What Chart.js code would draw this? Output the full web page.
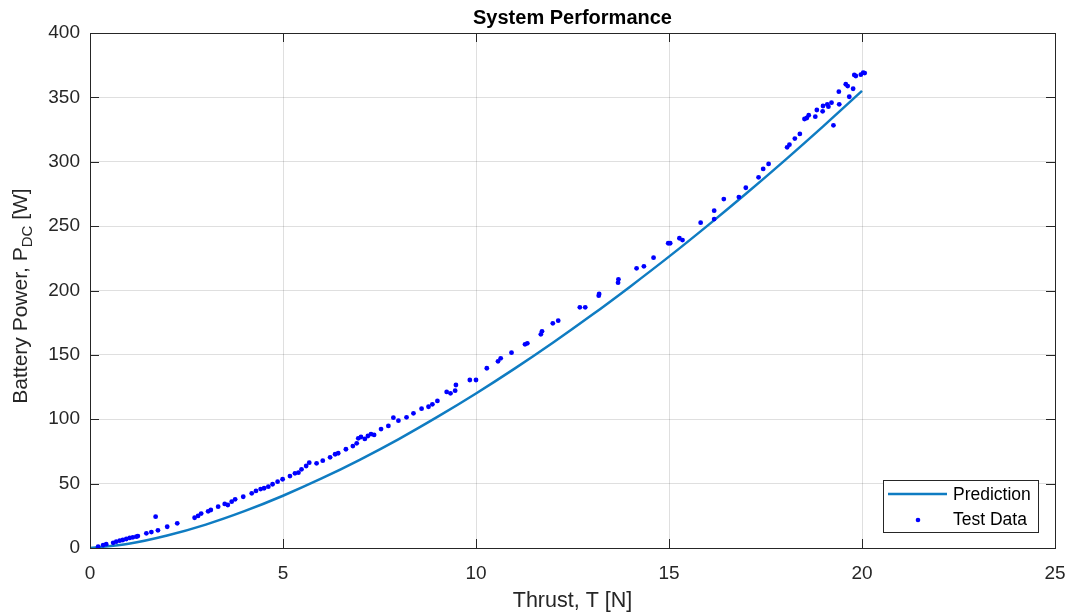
<!DOCTYPE html>
<html>
<head>
<meta charset="utf-8">
<script src="https://cdn.jsdelivr.net/npm/chart.js@4"></script>
<style>
  html, body { margin: 0; padding: 0; background: #fff; }
  #perf { display: block; }
</style>
</head>
<body>
<canvas id="perf" width="1068" height="613"></canvas>
<script>
// 모델 예측 곡선
const predT = [0, 1, 2, 3, 4, 5, 6, 7, 8, 9, 10, 11, 12, 13, 14, 15, 16, 17, 18, 19, 20];
const predP = [0, 3.3, 9.7, 18.2, 28.6, 40.6, 54.0, 68.7, 84.6, 101.8, 120, 139.3, 159.6, 180.9, 203.2, 226.3, 250.4, 275.3, 301.1, 327.7, 355.0];

// 시험 데이터 (추력 T [N], 전력 P [W])
const testT = [0.21, 0.34, 0.42, 0.6, 0.68, 0.77, 0.85, 0.94, 1.03, 1.11,
  1.2, 1.24, 1.46, 1.59, 1.7, 1.76, 2.0, 2.26, 2.71, 2.8,
  2.88, 3.06, 3.13, 3.32, 3.49, 3.57, 3.67, 3.76, 3.97, 4.19,
  4.3, 4.42, 4.51, 4.62, 4.73, 4.86, 4.99, 5.18, 5.31, 5.4,
  5.48, 5.6, 5.68, 5.87, 6.03, 6.22, 6.35, 6.43, 6.63, 6.81,
  6.91, 6.95, 7.02, 7.12, 7.2, 7.28, 7.36, 7.54, 7.73, 7.86,
  7.99, 8.2, 8.38, 8.59, 8.77, 8.87, 9.0, 9.24, 9.34, 9.46,
  9.48, 9.84, 10.0, 10.28, 10.57, 10.64, 10.92, 11.27, 11.33, 11.68,
  11.71, 11.99, 12.13, 12.69, 12.83, 13.18, 13.19, 13.68, 13.69, 14.16,
  14.35, 14.6, 14.98, 15.03, 15.27, 15.35, 15.82, 16.17, 16.17, 16.42,
  16.81, 16.99, 17.32, 17.44, 17.58, 18.06, 18.12, 18.26, 18.39, 18.51,
  18.57, 18.62, 18.79, 18.83, 18.98, 18.99, 19.1, 19.13, 19.21, 19.26,
  19.4, 19.41, 19.58, 19.63, 19.67, 19.77, 19.8, 19.84, 19.97, 20.03,
  20.07];
const testP = [1, 2.3, 3, 4, 4.9, 5.7, 6.2, 7, 7.8, 8.3,
  8.8, 9.3, 11.4, 12.4, 24.3, 13.7, 16.5, 19.2, 23.5, 24.9,
  26.7, 28.5, 29.5, 32.1, 34.2, 33.4, 36, 37.8, 39.8, 42.5,
  44.3, 45.8, 46.4, 47.6, 49.5, 51.5, 53.4, 55.9, 58, 58.5,
  61.1, 63.7, 66.3, 65.8, 67.8, 70.4, 72.8, 73.6, 76.7, 79.2,
  81.3, 85.2, 86.2, 84.7, 87, 88.5, 87.8, 92.4, 94.8, 101.2,
  98.9, 101.5, 104.6, 108.2, 109.7, 111.6, 114.2, 121.2, 120.1, 122.2,
  126.6, 130.5, 130.5, 139.6, 145, 147.3, 151.7, 158.2, 159, 166,
  168.3, 174.5, 176.6, 186.9, 186.9, 196, 197.3, 206.1, 208.7, 217.2,
  218.8, 225.5, 236.7, 236.7, 240.6, 239.2, 252.7, 262, 255.5, 271,
  272.6, 279.8, 287.9, 294.4, 298.3, 311.2, 313.3, 318, 321.6, 333.2,
  334, 336.1, 335, 340.2, 339.2, 343.3, 344.6, 342.8, 345.9, 328.3,
  354.4, 344.6, 360.2, 358.8, 350.5, 356.7, 367.4, 366.6, 367.6, 369.2,
  368.9];

const xTicks = [0, 5, 10, 15, 20, 25];
const yTicks = [0, 50, 100, 150, 200, 250, 300, 350, 400];

const TITLE   = 'System Performance';
const X_LABEL = 'Thrust, T [N]';
const LEGEND  = ['Prediction', 'Test Data'];

const FONT     = "'Liberation Sans', Arial, sans-serif";
const AXIS     = '#262626';
const GRID     = 'rgba(38,38,38,0.15)';
const PRED     = '#0f7cc2';
const DOTS     = '#0000ff';

// 제목, 축 이름, 상자, 안쪽 눈금, 범례
const matlabLook = {
  id: 'matlabLook',
  afterDatasetsDraw(chart) {
    const { ctx, chartArea: a, scales: { x, y } } = chart;
    const tl = 9;
    ctx.save();
    ctx.strokeStyle = AXIS;
    ctx.lineWidth = 1;
    ctx.beginPath();
    xTicks.forEach(v => {
      const px = Math.round(x.getPixelForValue(v)) + 0.5;
      ctx.moveTo(px, a.bottom); ctx.lineTo(px, a.bottom - tl);
      ctx.moveTo(px, a.top);    ctx.lineTo(px, a.top + tl);
    });
    yTicks.forEach(v => {
      const py = Math.round(y.getPixelForValue(v)) + 0.5;
      ctx.moveTo(a.left, py);  ctx.lineTo(a.left + tl, py);
      ctx.moveTo(a.right, py); ctx.lineTo(a.right - tl, py);
    });
    ctx.stroke();
    ctx.strokeRect(Math.round(a.left) + 0.5, Math.round(a.top) + 0.5,
      Math.round(a.right - a.left), Math.round(a.bottom - a.top));

    // 범례
    const lx = 883, ly = 480, lw = 155, lh = 52;
    ctx.fillStyle = '#fff';
    ctx.fillRect(lx, ly, lw, lh);
    ctx.strokeStyle = AXIS;
    ctx.strokeRect(lx + 0.5, ly + 0.5, lw, lh);
    ctx.strokeStyle = PRED;
    ctx.lineWidth = 2.5;
    ctx.beginPath();
    ctx.moveTo(888, 494); ctx.lineTo(947, 494);
    ctx.stroke();
    ctx.fillStyle = DOTS;
    ctx.beginPath();
    ctx.arc(918, 520, 2.3, 0, Math.PI * 2);
    ctx.fill();
    ctx.fillStyle = '#000';
    ctx.font = `17.5px ${FONT}`;
    ctx.textAlign = 'left';
    ctx.textBaseline = 'middle';
    ctx.fillText(LEGEND[0], 953, 495);
    ctx.fillText(LEGEND[1], 953, 520);

    // 제목
    ctx.fillStyle = '#000';
    ctx.textAlign = 'center';
    ctx.font = `bold 20px ${FONT}`;
    ctx.fillText(TITLE, (a.left + a.right) / 2, 18);

    // x축 이름
    ctx.fillStyle = AXIS;
    ctx.font = `21.5px ${FONT}`;
    ctx.fillText(X_LABEL, (a.left + a.right) / 2, 601);

    // y축 이름 (아래첨자 DC)
    ctx.translate(21, 296);
    ctx.rotate(-Math.PI / 2);
    const big = `21px ${FONT}`, small = `15px ${FONT}`;
    const p1 = 'Battery Power, P', sub = 'DC', p2 = ' [W]';
    ctx.font = big;
    const w1 = ctx.measureText(p1).width, w3 = ctx.measureText(p2).width;
    ctx.font = small;
    const w2 = ctx.measureText(sub).width;
    let sx = -(w1 + w2 + w3) / 2;
    ctx.textAlign = 'left';
    ctx.font = big;
    ctx.fillText(p1, sx, 0); sx += w1;
    ctx.font = small;
    ctx.fillText(sub, sx, 7); sx += w2;
    ctx.font = big;
    ctx.fillText(p2, sx, 0);
    ctx.restore();
  },
};

new Chart(document.getElementById('perf'), {
  type: 'scatter',
  data: {
    datasets: [
      {
        label: LEGEND[0],
        data: predT.map((t, i) => ({ x: t, y: predP[i] })),
        showLine: true,
        borderColor: PRED,
        borderWidth: 2.5,
        pointRadius: 0,
        cubicInterpolationMode: 'monotone',
        order: 2,
      },
      {
        label: LEGEND[1],
        data: testT.map((t, i) => ({ x: t, y: testP[i] })),
        showLine: false,
        backgroundColor: DOTS,
        borderWidth: 0,
        pointRadius: 2.4,
        order: 1,
      },
    ],
  },
  options: {
    responsive: false,
    animation: false,
    devicePixelRatio: 1,
    layout: { padding: { top: 33, right: 13, left: 0, bottom: 0 } },
    plugins: { legend: { display: false }, tooltip: { enabled: false }, title: { display: false } },
    scales: {
      x: {
        type: 'linear',
        min: 0, max: 25,
        afterFit: s => { s.height = 65; s.paddingLeft = 0; s.paddingRight = 0; },
        afterBuildTicks: s => { s.ticks = xTicks.map(v => ({ value: v })); },
        grid: { color: GRID, drawTicks: false },
        border: { display: false },
        ticks: { color: AXIS, font: { family: FONT, size: 19 }, padding: 14, maxRotation: 0, autoSkip: false },
      },
      y: {
        type: 'linear',
        min: 0, max: 400,
        afterFit: s => { s.width = 90; s.paddingTop = 0; s.paddingBottom = 0; },
        afterBuildTicks: s => { s.ticks = yTicks.map(v => ({ value: v })); },
        grid: { color: GRID, drawTicks: false },
        border: { display: false },
        ticks: { color: AXIS, font: { family: FONT, size: 19 }, padding: 10, autoSkip: false },
      },
    },
  },
  plugins: [matlabLook],
});
</script>
</body>
</html>
